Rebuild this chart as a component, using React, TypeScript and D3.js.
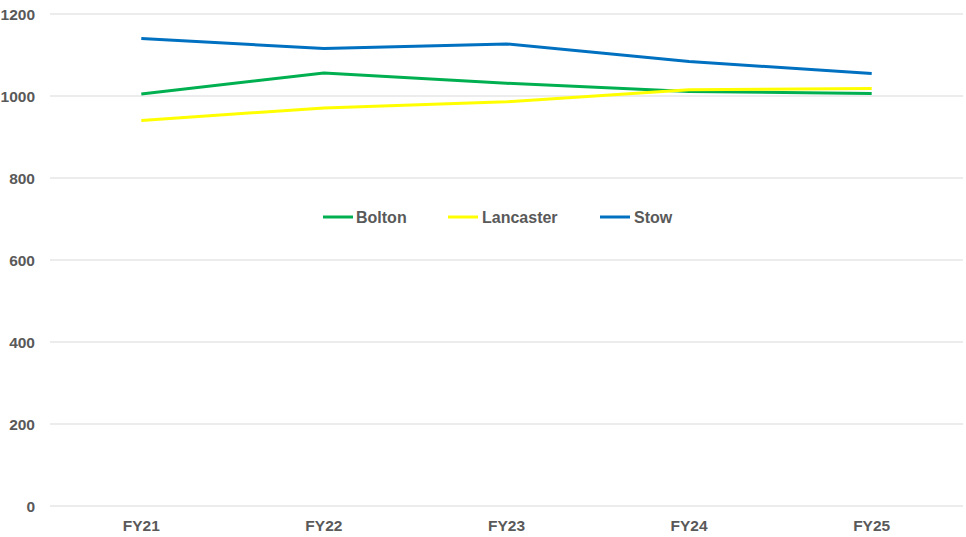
import React from "react";
import * as d3 from "d3";

const categories = ["FY21", "FY22", "FY23", "FY24", "FY25"];
const bolton = [1005, 1056, 1031, 1011, 1006];
const lancaster = [940, 971, 986, 1015, 1018];
const stow = [1140, 1116, 1127, 1084, 1055];
const yTicks = [0, 200, 400, 600, 800, 1000, 1200];

const series = [
  { name: "Bolton", values: bolton, color: "#00B050" },
  { name: "Lancaster", values: lancaster, color: "#FFFF00" },
  { name: "Stow", values: stow, color: "#0070C0" },
];

const W = 966;
const H = 537;
const left = 50;
const right = 963;
const top = 14;
const bottom = 506;
const font = "'Liberation Sans', Arial, sans-serif";
const textColor = "#595959";

export default function App() {
  const x = d3.scalePoint<string>().domain(categories).range([left, right]).padding(0.5);
  const y = d3.scaleLinear().domain([0, 1200]).range([bottom, top]);
  const line = d3
    .line<number>()
    .x((_, i) => x(categories[i]) as number)
    .y((d) => y(d));

  const legendItems = [
    { lx: 323, tx: 356 },
    { lx: 448, tx: 482 },
    { lx: 600, tx: 634 },
  ];

  return (
    <svg
      width={W}
      height={H}
      style={{ position: "absolute", left: 0, top: 0, background: "#fff" }}
      fontFamily={font}
    >
      {yTicks.map((t) => (
        <g key={t}>
          <line x1={left} x2={right} y1={y(t)} y2={y(t)} stroke="#d9d9d9" strokeWidth={1} />
          <text
            x={35}
            y={y(t) + 5.5}
            textAnchor="end"
            fontSize={15.5}
            fontWeight="bold"
            fill={textColor}
          >
            {t}
          </text>
        </g>
      ))}
      {categories.map((c) => (
        <text
          key={c}
          x={x(c)}
          y={530.5}
          textAnchor="middle"
          fontSize={15.5}
          fontWeight="bold"
          fill={textColor}
        >
          {c}
        </text>
      ))}
      {series.map((s) => (
        <path
          key={s.name}
          d={line(s.values) || ""}
          fill="none"
          stroke={s.color}
          strokeWidth={3}
          strokeLinejoin="round"
        />
      ))}
      {series.map((s, i) => (
        <g key={s.name}>
          <line
            x1={legendItems[i].lx}
            x2={legendItems[i].lx + 30}
            y1={217}
            y2={217}
            stroke={s.color}
            strokeWidth={3}
          />
          <text
            x={legendItems[i].tx}
            y={222.5}
            fontSize={16}
            fontWeight="bold"
            fill={textColor}
          >
            {s.name}
          </text>
        </g>
      ))}
    </svg>
  );
}
